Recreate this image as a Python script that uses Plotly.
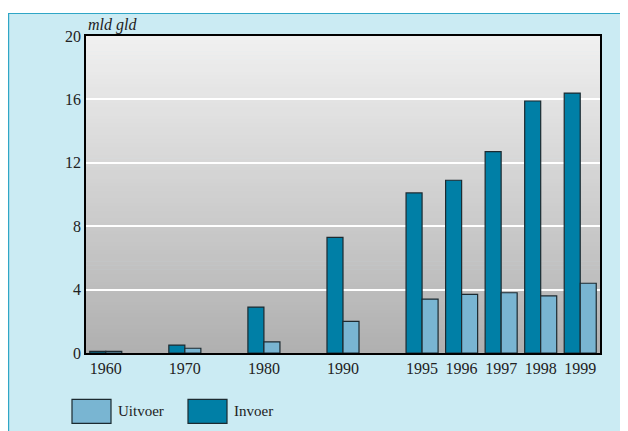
import plotly.graph_objects as go

# ---- data ----
years = ["1960", "1970", "1980", "1990", "1995", "1996", "1997", "1998", "1999"]
invoer = [0.1, 0.5, 2.9, 7.3, 10.1, 10.9, 12.7, 15.9, 16.4]
uitvoer = [0.1, 0.3, 0.7, 2.0, 3.4, 3.7, 3.8, 3.6, 4.4]
series_names = ["Invoer", "Uitvoer"]
y_ticks = [0, 4, 8, 12, 16, 20]
unit_label = "mld gld"

# axis positions: decades take two slots, the late-1990s years one slot each
def slot(year_str):
    y = int(year_str)
    return (y - 1960) / 5 if y < 1995 else 8 + (y - 1995)

xpos = [slot(y) for y in years]

C_INV = "#007fa6"
C_UIT = "#79b5d2"
EDGE = "#1c2a30"
FONT = "Liberation Serif"

fig = go.Figure()
fig.add_trace(go.Bar(x=xpos, y=invoer, name=series_names[0], marker=dict(color=C_INV, line=dict(color=EDGE, width=1.2))))
fig.add_trace(go.Bar(x=xpos, y=uitvoer, name=series_names[1], marker=dict(color=C_UIT, line=dict(color=EDGE, width=1.2))))

# page has an 8px body margin; work in page pixels and convert
OFF = 8
W, H = 620, 423
PL, PR, PT, PB = 86, 600, 36, 352.7   # plot area in page pixels
L, R, T, B = PL - OFF, OFF + W - PR, PT - OFF, OFF + H - PB
pw, ph = W - L - R, H - T - B

def px2x(px):
    return (px - PL) / pw

def px2y(py):
    return (PB - py) / ph

shapes = []
# light blue panel
shapes.append(dict(type="rect", xref="paper", yref="paper", layer="below",
                   x0=px2x(8), x1=px2x(640), y0=px2y(445), y1=px2y(13),
                   fillcolor="#cbebf3", line=dict(width=0)))
shapes.append(dict(type="line", xref="paper", yref="paper", layer="below",
                   x0=px2x(8), x1=px2x(640), y0=px2y(13.5), y1=px2y(13.5),
                   line=dict(color="#2fa6c6", width=1.2)))
shapes.append(dict(type="line", xref="paper", yref="paper", layer="below",
                   x0=px2x(8.6), x1=px2x(8.6), y0=px2y(13), y1=px2y(445),
                   line=dict(color="#2fa6c6", width=1.2)))
# gradient plot background
n = 80
top = (0xf0, 0xf0, 0xf0)
bot = (0xb0, 0xb0, 0xb0)
for i in range(n):
    t = i / (n - 1)
    c = tuple(round(bot[k] + (top[k] - bot[k]) * t) for k in range(3))
    shapes.append(dict(type="rect", xref="paper", yref="paper", layer="below",
                       x0=0, x1=1, y0=i / n, y1=min(1, (i + 1) / n + 0.002),
                       fillcolor="rgb(%d,%d,%d)" % c, line=dict(width=0)))

annotations = [dict(text="<i>" + unit_label + "</i>", xref="paper", yref="paper", x=0, y=1,
                    xanchor="left", yanchor="bottom", showarrow=False,
                    font=dict(family=FONT, size=16, color="#222"))]

# custom legend (Uitvoer first, then Invoer)
legend_items = [(series_names[1], C_UIT, 72), (series_names[0], C_INV, 188)]
for name, col, x0 in legend_items:
    shapes.append(dict(type="rect", xref="paper", yref="paper", layer="above",
                       x0=px2x(x0), x1=px2x(x0 + 39), y0=px2y(423), y1=px2y(399),
                       fillcolor=col, line=dict(color=EDGE, width=1.2)))
    annotations.append(dict(text=name, xref="paper", yref="paper",
                            x=px2x(x0 + 44), y=px2y(411), xanchor="left", yanchor="middle",
                            showarrow=False, font=dict(family=FONT, size=15, color="#222")))

fig.update_layout(
    width=W, height=H,
    margin=dict(l=L, r=R, t=T, b=B),
    paper_bgcolor="white", plot_bgcolor="rgba(0,0,0,0)",
    barmode="group", bargap=0.19, bargroupgap=0,
    showlegend=False,
    shapes=shapes, annotations=annotations,
    font=dict(family=FONT, size=16, color="#222"),
)
fig.update_xaxes(range=[-0.5, 12.5], tickvals=xpos, ticktext=years,
                 showgrid=False, zeroline=False, showline=True, mirror=True,
                 linecolor="black", linewidth=1.5, ticks="",
                 tickfont=dict(family=FONT, size=16, color="#222"))
fig.update_yaxes(range=[0, 20], tickvals=y_ticks,
                 showgrid=True, gridcolor="white", gridwidth=1.5, zeroline=False,
                 showline=True, mirror=True, linecolor="black", linewidth=1.5, ticks="",
                 tickfont=dict(family=FONT, size=16, color="#222"))

fig.write_html("out.html")
